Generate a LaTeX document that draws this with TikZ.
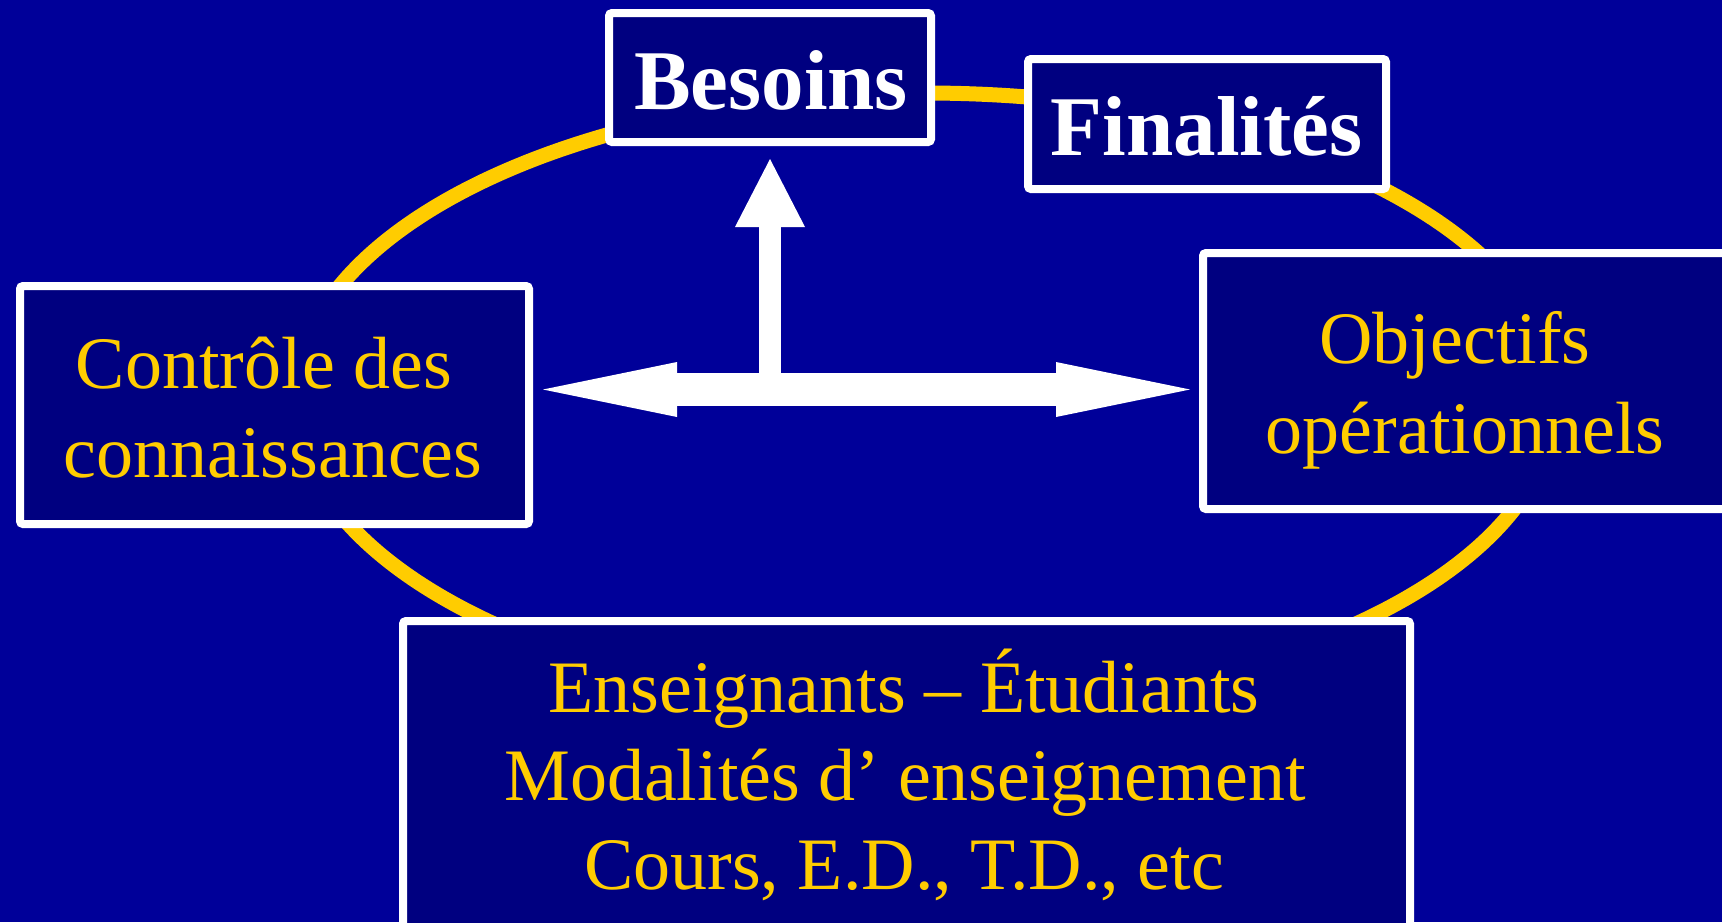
\documentclass[tikz,border=0pt]{standalone}
\usepackage{fontspec}
\setmainfont{Liberation Serif}
\usetikzlibrary{arrows.meta}
\definecolor{bgblue}{RGB}{0,0,153}
\definecolor{boxblue}{RGB}{0,0,128}
\definecolor{gold}{RGB}{255,204,0}
\tikzset{
  panel/.style 2 args={draw=white, line width=8pt, fill=boxblue, rounded corners=3pt,
    inner sep=0pt, minimum width=#1, minimum height=#2},
  goldtext/.style={text=gold, font=\fontsize{74}{88}\selectfont, anchor=base, inner sep=0pt},
  titletext/.style={text=white, font=\fontsize{85}{100}\selectfont\bfseries, anchor=base, inner sep=0pt},
  ring/.style={draw=gold, line width=15pt},
  wideshaft/.style={draw=white, fill=white, line width=33pt},
  thinshaft/.style={draw=white, fill=white, line width=22pt},
}
\begin{document}
\begin{tikzpicture}[x=1pt, y=-1pt]
  \useasboundingbox (0,0) rectangle (1722,922);
  \fill[bgblue] (0,0) rectangle (1722,922);
  \clip (0,0) rectangle (1722,922);

  % ring
  \draw[ring] (925,400) ellipse [x radius=630pt, y radius=307pt];

  % boxes
  \node[panel={322pt}{129pt}] (bes) at (770,77.5) {};
  \node[panel={358pt}{130pt}] (fin) at (1207,124) {};
  \node[panel={509pt}{238pt}] (ctl) at (274.5,405) {};
  \node[panel={524pt}{256pt}] (obj) at (1465,381) {};
  \node[panel={1007pt}{339pt}] (ens) at (906.5,790.5) {};

  % texts
  \node[titletext] (besT) at (771,109) {Besoins};
  \node[titletext] (finT) at (1206.5,155) {Finalités};
  \node[goldtext] (ctlA) at (264,388) {Contrôle des};
  \node[goldtext] (ctlB) at (273,477) {connaissances};
  \node[goldtext] (objA) at (1455,363) {Objectifs};
  \node[goldtext] (objB) at (1465,453) {opérationnels};
  \node[goldtext] (ensA) at (904,712) {Enseignants – Étudiants};
  \node[goldtext] (ensB) at (905,800) {Modalités d’ enseignement};
  \node[goldtext] (ensC) at (904,889) {Cours, E.D., T.D., etc};

  % arrows
  \coordinate (hub) at (770,389.5);
  \draw[thinshaft, -{Triangle[length=68pt, width=70pt, line width=0pt]}, shorten >=13pt]
    (hub) -- (bes.south);
  \draw[wideshaft, {Triangle[length=134pt, width=55pt, line width=0pt]}-{Triangle[length=134pt, width=55pt, line width=0pt]},
    shorten <=10pt, shorten >=9pt]
    (ctl.east |- hub) -- (obj.west |- hub);
\end{tikzpicture}
\end{document}
